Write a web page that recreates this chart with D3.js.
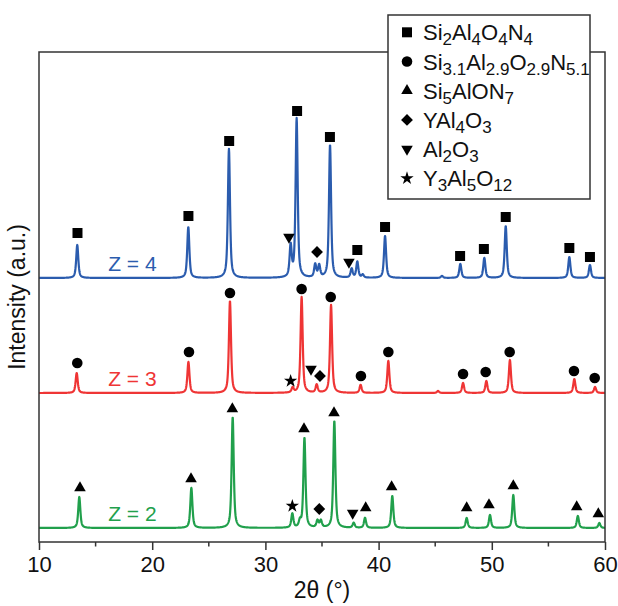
<!DOCTYPE html>
<html>
<head>
<meta charset="utf-8">
<script src="https://cdn.jsdelivr.net/npm/d3@7"></script>
<style>
  body { margin: 0; background: #fff; }
  text { font-family: "Liberation Sans", Arial, sans-serif; }
</style>
</head>
<body>
<svg width="618" height="606"></svg>
<script>
// ---- data ----
const xTicks = [10, 20, 30, 40, 50, 60];
const xMinorTicks = [15, 25, 35, 45, 55];

const seriesNames = ["Z = 4", "Z = 3", "Z = 2"];
const seriesColors = ["#2b5cae", "#ef3535", "#21a04c"];
const seriesOffsets = [250, 135, 0];   // stacking offsets (a.u.)

// peaks: [2theta, height above baseline (a.u.)]
const peaksZ4 = [[13.38, 33], [23.19, 51], [26.78, 129], [32.23, 31], [32.76, 159], [34.4, 13], [34.75, 12],
    [35.71, 133], [37.62, 9], [38.12, 16], [38.6, 3], [40.57, 42], [45.6, 2], [47.22, 14], [49.34, 20],
    [51.23, 52], [56.85, 21], [58.67, 13]];
const peaksZ3 = [[13.33, 20], [23.2, 31], [26.87, 92], [32.41, 5], [33.2, 96], [34.53, 8], [35.8, 88],
    [38.41, 8], [40.86, 32], [45.25, 2], [47.46, 10], [49.52, 12], [51.6, 33], [57.29, 14], [59.12, 6]];
const peaksZ2 = [[13.56, 31], [23.46, 40], [27.11, 111], [32.38, 14], [33.05, 6], [33.45, 90], [34.6, 7],
    [34.9, 7], [36.09, 107], [37.8, 5], [38.8, 10], [41.21, 32], [47.78, 10], [49.84, 13], [51.9, 33],
    [57.6, 12], [59.5, 5]];

// phase markers: [2theta, height above baseline (a.u.), phase index]
const markersZ4 = [[13.4, 45, 0], [23.2, 62, 0], [26.8, 137, 0], [32.08, 41, 4], [32.8, 167, 0], [34.56, 26, 3],
    [35.7, 141, 0], [37.38, 16, 4], [38.12, 28, 0], [40.57, 51, 0], [47.2, 22, 0], [49.3, 29, 0],
    [51.23, 61, 0], [56.85, 30, 0], [58.67, 21, 0]];
const markersZ3 = [[13.38, 30, 1], [23.25, 41, 1], [26.87, 100, 1], [32.23, 12, 5], [33.2, 104, 1],
    [34.03, 24, 4], [34.82, 17, 3], [35.77, 96, 1], [38.44, 17, 1], [40.86, 41, 1], [47.46, 19, 1],
    [49.46, 21, 1], [51.58, 41, 1], [57.26, 22, 1], [59.09, 15, 1]];
const markersZ2 = [[13.62, 40, 2], [23.43, 49, 2], [27.08, 119, 2], [32.38, 22, 5], [33.41, 99, 2],
    [34.76, 19, 3], [36.06, 115, 2], [37.71, 15, 4], [38.86, 20, 2], [41.15, 41, 2], [47.78, 20, 2],
    [49.75, 23, 2], [51.9, 42, 2], [57.5, 21, 2], [59.41, 14, 2]];

// legend labels: [text, subscript?]
const phaseLabels = [
    [["Si", 0], ["2", 1], ["Al", 0], ["4", 1], ["O", 0], ["4", 1], ["N", 0], ["4", 1]],
    [["Si", 0], ["3.1", 1], ["Al", 0], ["2.9", 1], ["O", 0], ["2.9", 1], ["N", 0], ["5.1", 1]],
    [["Si", 0], ["5", 1], ["AlON", 0], ["7", 1]],
    [["YAl", 0], ["4", 1], ["O", 0], ["3", 1]],
    [["Al", 0], ["2", 1], ["O", 0], ["3", 1]],
    [["Y", 0], ["3", 1], ["Al", 0], ["5", 1], ["O", 0], ["12", 1]]
];
const phaseSymbols = ["square", "circle", "triangle", "diamond", "invTriangle", "star"];

const allPeaks = [peaksZ4, peaksZ3, peaksZ2];
const allMarkers = [markersZ4, markersZ3, markersZ2];

// ---- layout ----
let svg = d3.select("svg");
const margin = {left: 39, right: 13, top: 52, bottom: 64};
const plotW = 618 - margin.left - margin.right;
const plotH = 606 - margin.top - margin.bottom;

let x = d3.scaleLinear().domain([10, 60]).range([margin.left, margin.left + plotW]);
let y = d3.scaleLinear().domain([-14, plotH - 14]).range([margin.top + plotH, margin.top]);

// peak profile (pseudo-Voigt) used to trace each pattern from its peak list
const fwhm = 0.22;
function profile(t, peaks) {
    let s = 0;
    peaks.forEach(function (p) {
        const u = (t - p[0]) / (fwhm / 2);
        s += p[1] * (0.65 / (1 + u * u) + 0.35 * Math.exp(-Math.LN2 * u * u));
    });
    return s;
}

const steps = d3.range(10, 60.0001, 0.02);

let line = d3.line()
    .x(function (d) { return x(d[0]); })
    .y(function (d) { return y(d[1]); });

let g = svg.append("g");

allPeaks.forEach(function (peaks, i) {
    const pts = steps.map(function (t) { return [t, seriesOffsets[i] + profile(t, peaks)]; });
    g.append("path")
        .attr("d", line(pts))
        .attr("fill", "none")
        .attr("stroke", seriesColors[i])
        .attr("stroke-width", 2.2)
        .attr("stroke-linejoin", "round");

    g.append("text")
        .attr("x", x(18.25))
        .attr("y", y(seriesOffsets[i] + 15))
        .attr("text-anchor", "middle")
        .attr("dominant-baseline", "central")
        .attr("font-size", 21)
        .attr("fill", seriesColors[i])
        .text(seriesNames[i]);
});

// symbol shapes
function symbolOf(kind) {
    switch (kind) {
        case "square": return {d: d3.symbol(d3.symbolSquare, 100)(), rot: 0};
        case "circle": return {d: d3.symbol(d3.symbolCircle, 88)(), rot: 0};
        case "triangle": return {d: d3.symbol(d3.symbolTriangle, 58)(), rot: 0};
        case "diamond": return {d: d3.symbol(d3.symbolSquare, 70)(), rot: 45};
        case "invTriangle": return {d: d3.symbol(d3.symbolTriangle, 58)(), rot: 180};
        case "star": return {d: d3.symbol(d3.symbolStar, 55)(), rot: 0};
    }
}

let markerG = svg.append("g");
allMarkers.forEach(function (markers, i) {
    markers.forEach(function (m) {
        const s = symbolOf(phaseSymbols[m[2]]);
        markerG.append("path")
            .attr("d", s.d)
            .attr("fill", "#000")
            .attr("transform", "translate(" + x(m[0]) + "," + y(seriesOffsets[i] + m[1]) + ") rotate(" + s.rot + ")");
    });
});

// axes
let xAxis = d3.axisBottom(x).tickValues(xTicks).tickSize(8).tickSizeOuter(0).tickPadding(6);
let axG = svg.append("g")
    .attr("transform", "translate(0," + (margin.top + plotH) + ")")
    .call(xAxis);
axG.selectAll("text").attr("font-size", 22).attr("fill", "#111")
    .style("font-family", "\"Liberation Sans\", Arial, sans-serif");
axG.selectAll("line").attr("stroke", "#333").attr("stroke-width", 1.5);
axG.select(".domain").remove();

axG.selectAll(".minor")
    .data(xMinorTicks)
    .join("line")
    .attr("class", "minor")
    .attr("x1", function (d) { return x(d); })
    .attr("x2", function (d) { return x(d); })
    .attr("y1", 0)
    .attr("y2", 4.5)
    .attr("stroke", "#333")
    .attr("stroke-width", 1.5);

svg.append("rect")
    .attr("x", margin.left)
    .attr("y", margin.top)
    .attr("width", plotW)
    .attr("height", plotH)
    .attr("fill", "none")
    .attr("stroke", "#333")
    .attr("stroke-width", 1.5);

svg.append("text")
    .attr("x", x(35))
    .attr("y", 598)
    .attr("text-anchor", "middle")
    .attr("font-size", 23)
    .attr("fill", "#111")
    .text("2θ (°)");

svg.append("text")
    .attr("transform", "translate(25," + (margin.top + plotH / 2) + ") rotate(-90)")
    .attr("text-anchor", "middle")
    .attr("font-size", 23)
    .attr("fill", "#111")
    .text("Intensity (a.u.)");

// legend
let legend = svg.append("g").attr("transform", "translate(388,15)");
legend.append("rect")
    .attr("width", 202)
    .attr("height", 184)
    .attr("fill", "#fff")
    .attr("stroke", "#333")
    .attr("stroke-width", 1.5);

phaseLabels.forEach(function (parts, i) {
    const cy = 17.3 + i * 29.2;
    const s = symbolOf(phaseSymbols[i]);
    legend.append("path")
        .attr("d", s.d)
        .attr("fill", "#000")
        .attr("transform", "translate(19," + cy + ") rotate(" + s.rot + ")");
    let t = legend.append("text")
        .attr("x", 35)
        .attr("y", cy + 8)
        .attr("font-size", 22)
        .attr("fill", "#111");
    let shifted = false;
    parts.forEach(function (p) {
        let ts = t.append("tspan").text(p[0]);
        if (p[1]) {
            ts.attr("font-size", 17).attr("dy", shifted ? 0 : 5);
            shifted = true;
        } else {
            ts.attr("dy", shifted ? -5 : 0);
            shifted = false;
        }
    });
});
</script>
</body>
</html>
